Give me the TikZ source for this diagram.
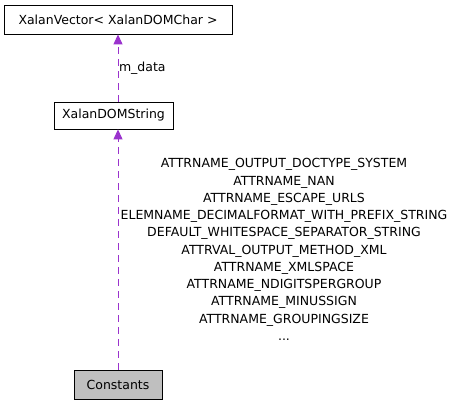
\documentclass[tikz,border=0pt]{standalone}
\usepackage{fontspec}
\setmainfont{DejaVu Sans}
\usetikzlibrary{arrows.meta}

\definecolor{edgepurple}{HTML}{9A32CD}
\definecolor{nodegray}{HTML}{BFBFBF}

\tikzset{
  classbox/.style={draw=black, line width=0.8pt, fill=white, inner sep=0pt},
  usesedge/.style={edgepurple, dashed, dash pattern=on 7pt off 5pt, line width=1pt,
    -{Triangle[length=10pt,width=9pt]}},
}

\begin{document}
\fontsize{12.5pt}{17.25pt}\selectfont
\begin{tikzpicture}[x=1pt,y=-1pt]
\useasboundingbox (0,0) rectangle (455,405);

% class boxes
\node[classbox, minimum width=228pt, minimum height=29pt] (vector) at (118,19.5) {XalanVector< XalanDOMChar >};
\node[classbox, minimum width=119pt, minimum height=27pt] (domstring) at (113.5,115.5) {XalanDOMString};
\node[classbox, fill=nodegray, minimum width=88pt, minimum height=29pt] (constants) at (118,384.5) {Constants};

% edges
\draw[usesedge] (domstring.north -| 118,0) -- (vector.south -| 118,0)
  node[pos=0.5, right, inner sep=0.5pt, text=black] (mdata) {m\_data};
\draw[usesedge] (constants.north) -- (domstring.south -| 118,0);

% member list
\node[align=center, inner sep=0pt, anchor=north] (members) at (284,158.5) {%
ATTRNAME\_OUTPUT\_DOCTYPE\_SYSTEM\\
ATTRNAME\_NAN\\
ATTRNAME\_ESCAPE\_URLS\\
ELEMNAME\_DECIMALFORMAT\_WITH\_PREFIX\_STRING\\
DEFAULT\_WHITESPACE\_SEPARATOR\_STRING\\
ATTRVAL\_OUTPUT\_METHOD\_XML\\
ATTRNAME\_XMLSPACE\\
ATTRNAME\_NDIGITSPERGROUP\\
ATTRNAME\_MINUSSIGN\\
ATTRNAME\_GROUPINGSIZE\\
...};
\end{tikzpicture}
\end{document}
